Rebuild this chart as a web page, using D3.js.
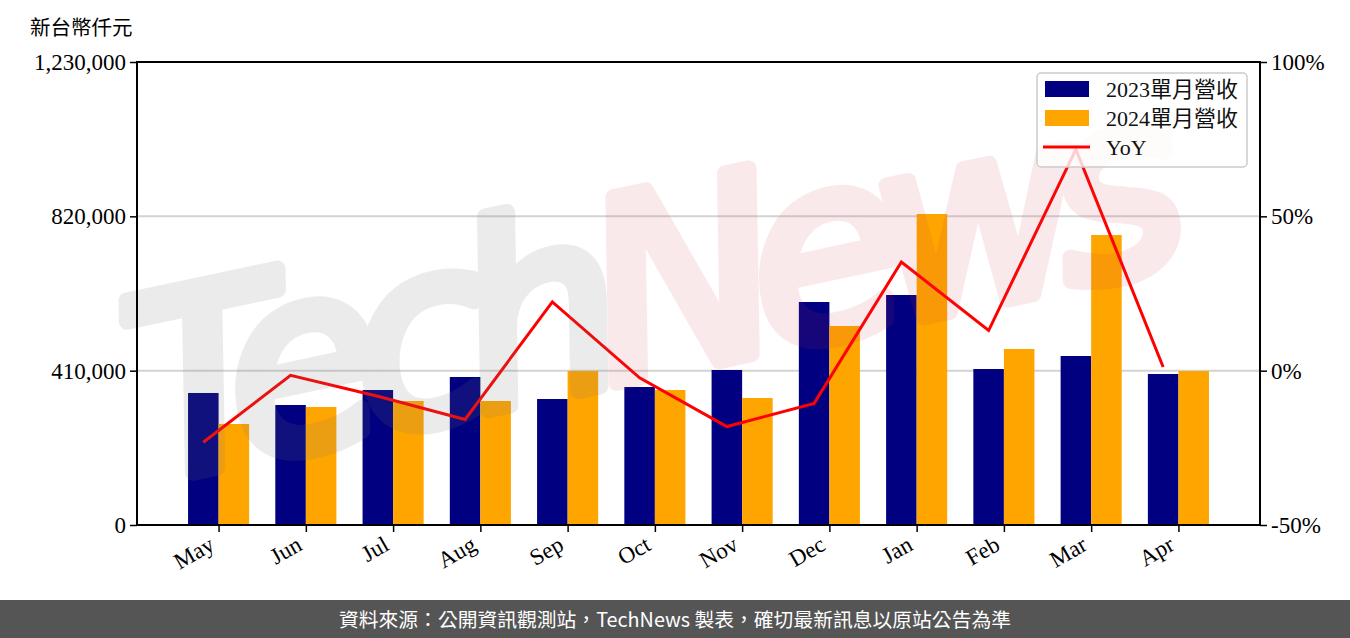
<!DOCTYPE html>
<html>
<head>
  <meta charset="utf-8">
  <script src="https://d3js.org/d3.v7.min.js"></script>
  <style>
    body { margin: 0; background: #fff; }
    text { font-family: "Liberation Serif", "Noto Sans CJK TC", serif; }
  </style>
</head>
<body>
  <div id="chart"></div>
  <script>
    // values
    const months = ["May", "Jun", "Jul", "Aug", "Sep", "Oct", "Nov", "Dec", "Jan", "Feb", "Mar", "Apr"];
    const rev2023 = [350700, 318800, 358600, 393200, 334700, 366600, 411800, 592400, 611000, 414400, 449000, 401100];
    const rev2024 = [268300, 313500, 329400, 329400, 409100, 358600, 337400, 528700, 826200, 467600, 770400, 409100];
    const yoy = [-23.2, -1.5, -8.3, -15.8, 22.3, -2.3, -18.1, -10.6, 35.2, 13.0, 71.7, 1.2];
    const leftTicks = [0, 410000, 820000, 1230000];
    const rightTicks = [-50, 0, 50, 100];
    const seriesNames = ["2023單月營收", "2024單月營收", "YoY"];

    const width = 1350;
    const height = 638;
    const pLeft = 137, pRight = 1260, pTop = 62, pBottom = 525;
    const barW = 0.35;

    const svg = d3.select("#chart").append("svg")
      .attr("width", width)
      .attr("height", height);

    const x = d3.scaleLinear().domain([-0.76, 12.11]).range([pLeft, pRight]);
    const y = d3.scaleLinear().domain([0, 1230000]).range([pBottom, pTop]);
    const y2 = d3.scaleLinear().domain([-50, 100]).range([pBottom, pTop]);

    // grid
    svg.append("g").selectAll("line")
      .data(leftTicks.slice(1, 3))
      .enter().append("line")
      .attr("x1", pLeft).attr("x2", pRight)
      .attr("y1", d => y(d)).attr("y2", d => y(d))
      .attr("stroke", "#d3d3d3")
      .attr("stroke-width", 2);

    // bars
    const unit = x(1) - x(0);
    svg.append("g").selectAll("rect")
      .data(rev2023)
      .enter().append("rect")
      .attr("x", (d, i) => x(i - barW / 2))
      .attr("y", d => y(d))
      .attr("width", unit * barW)
      .attr("height", d => pBottom - y(d))
      .attr("fill", "#000080");

    svg.append("g").selectAll("rect")
      .data(rev2024)
      .enter().append("rect")
      .attr("x", (d, i) => x(i + barW / 2))
      .attr("y", d => y(d))
      .attr("width", unit * barW)
      .attr("height", d => pBottom - y(d))
      .attr("fill", "#ffa500");

    // yoy line
    const line = d3.line()
      .x((d, i) => x(i))
      .y(d => y2(d));

    svg.append("path")
      .datum(yoy)
      .attr("d", line)
      .attr("fill", "none")
      .attr("stroke", "#ff0000")
      .attr("stroke-width", 3);

    // watermark
    const wm = svg.append("text")
      .attr("transform", "translate(150,482) rotate(-12)")
      .attr("textLength", 1070)
      .attr("opacity", 0.14)
      .attr("stroke-width", 16)
      .attr("stroke-linejoin", "round")
      .style("font-family", "'DejaVu Sans', sans-serif")
      .style("font-style", "oblique")
      .style("font-size", "250px");
    wm.append("tspan").text("Tech").attr("fill", "#777").attr("stroke", "#777");
    wm.append("tspan").text("News").attr("fill", "#d23c50").attr("stroke", "#d23c50")
      .attr("opacity", 0.75);

    // legend
    const lg = svg.append("g").attr("transform", "translate(1037,73)");
    lg.append("rect")
      .attr("width", 210).attr("height", 94)
      .attr("rx", 4)
      .attr("fill", "rgba(255,255,255,0.8)")
      .attr("stroke", "#cccccc")
      .attr("stroke-width", 1.5);
    const legendColors = ["#000080", "#ffa500", "#ff0000"];
    seriesNames.forEach((name, i) => {
      const cy = 16 + i * 29;
      if (i < 2) {
        lg.append("rect").attr("x", 8).attr("y", cy - 8).attr("width", 44).attr("height", 16)
          .attr("fill", legendColors[i]);
      } else {
        lg.append("line").attr("x1", 6).attr("x2", 53).attr("y1", cy).attr("y2", cy)
          .attr("stroke", legendColors[i]).attr("stroke-width", 3);
      }
      lg.append("text").attr("x", 69).attr("y", cy + 8)
        .style("font-size", "22px").attr("fill", "#111")
        .text(name);
    });

    // axes
    const fmt = d3.format(",");
    const axL = svg.append("g")
      .attr("transform", "translate(" + pLeft + ",0)")
      .call(d3.axisLeft(y).tickValues(leftTicks).tickFormat(fmt).tickSize(7).tickPadding(4));
    const axR = svg.append("g")
      .attr("transform", "translate(" + pRight + ",0)")
      .call(d3.axisRight(y2).tickValues(rightTicks).tickFormat(d => d + "%").tickSize(7).tickPadding(4));
    const axB = svg.append("g")
      .attr("transform", "translate(0," + pBottom + ")")
      .call(d3.axisBottom(x).tickValues(d3.range(12).map(i => i + barW / 2))
        .tickFormat((d, i) => months[i]).tickSize(7).tickPadding(4));

    [axL, axR, axB].forEach(a => {
      a.select(".domain").remove();
      a.selectAll("line").attr("stroke", "#000").attr("stroke-width", 1.5);
      a.selectAll("text").style("font-size", "23px").attr("fill", "#000")
        .style("font-family", "'Liberation Serif', serif");
    });

    axB.selectAll("text")
      .attr("text-anchor", "end")
      .attr("x", 0).attr("y", 0).attr("dy", 0)
      .attr("transform", "translate(-3,24) rotate(-30)");

    // frame
    svg.append("rect")
      .attr("x", pLeft).attr("y", pTop)
      .attr("width", pRight - pLeft).attr("height", pBottom - pTop)
      .attr("fill", "none")
      .attr("stroke", "#000")
      .attr("stroke-width", 2);

    svg.append("text")
      .attr("x", 30).attr("y", 35)
      .style("font-size", "20.5px")
      .style("font-family", "'Noto Sans CJK TC', sans-serif")
      .text("新台幣仟元");

    // footer
    svg.append("rect")
      .attr("x", 0).attr("y", 600)
      .attr("width", width).attr("height", 38)
      .attr("fill", "#555555");
    svg.append("text")
      .attr("x", width / 2).attr("y", 627)
      .attr("text-anchor", "middle")
      .attr("fill", "#fff")
      .style("font-size", "19.8px")
      .style("font-family", "'Noto Sans CJK TC', sans-serif")
      .text("資料來源：公開資訊觀測站，TechNews 製表，確切最新訊息以原站公告為準");
  </script>
</body>
</html>
